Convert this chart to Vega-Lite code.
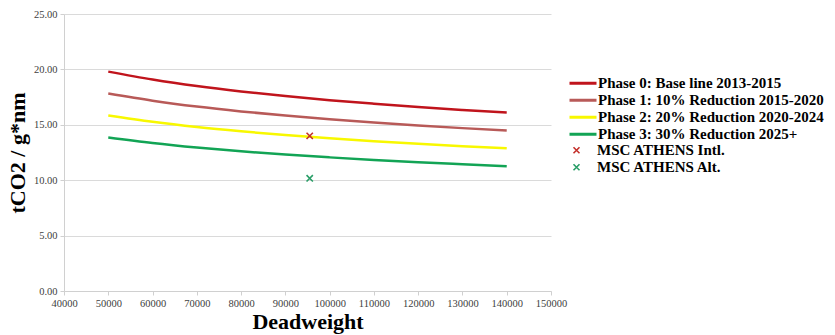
{
  "$schema": "https://vega.github.io/schema/vega-lite/v6.json",
  "autosize": {"type": "none"},
  "width": 487,
  "height": 277,
  "padding": {"left": 64, "top": 14, "right": 284, "bottom": 44},
  "background": "white",
  "config": {
    "view": {"stroke": null},
    "font": "Liberation Serif",
    "axis": {
      "labelFont": "Liberation Serif",
      "labelFontSize": 10.5,
      "labelColor": "#404040",
      "titleFont": "Liberation Serif",
      "titleFontSize": 22,
      "titleFontWeight": "bold",
      "titleColor": "#000000",
      "domainColor": "#d0d0d0",
      "tickColor": "#d0d0d0",
      "gridColor": "#dadada",
      "tickSize": 4
    },
    "legend": {
      "labelFont": "Liberation Serif",
      "labelFontSize": 15,
      "labelFontWeight": "bold",
      "labelColor": "#000000",
      "labelLimit": 400,
      "padding": 0,
      "rowPadding": 0
    }
  },
  "datasets": {
    "curves": [
      {"series": "Phase 0: Base line 2013-2015", "dwt": 50000, "val": 19.80},
      {"series": "Phase 0: Base line 2013-2015", "dwt": 60000, "val": 19.09},
      {"series": "Phase 0: Base line 2013-2015", "dwt": 70000, "val": 18.50},
      {"series": "Phase 0: Base line 2013-2015", "dwt": 80000, "val": 18.01},
      {"series": "Phase 0: Base line 2013-2015", "dwt": 90000, "val": 17.59},
      {"series": "Phase 0: Base line 2013-2015", "dwt": 100000, "val": 17.22},
      {"series": "Phase 0: Base line 2013-2015", "dwt": 110000, "val": 16.90},
      {"series": "Phase 0: Base line 2013-2015", "dwt": 120000, "val": 16.60},
      {"series": "Phase 0: Base line 2013-2015", "dwt": 130000, "val": 16.34},
      {"series": "Phase 0: Base line 2013-2015", "dwt": 140000, "val": 16.10},
      {"series": "Phase 1: 10% Reduction 2015-2020", "dwt": 50000, "val": 17.82},
      {"series": "Phase 1: 10% Reduction 2015-2020", "dwt": 60000, "val": 17.18},
      {"series": "Phase 1: 10% Reduction 2015-2020", "dwt": 70000, "val": 16.65},
      {"series": "Phase 1: 10% Reduction 2015-2020", "dwt": 80000, "val": 16.21},
      {"series": "Phase 1: 10% Reduction 2015-2020", "dwt": 90000, "val": 15.83},
      {"series": "Phase 1: 10% Reduction 2015-2020", "dwt": 100000, "val": 15.50},
      {"series": "Phase 1: 10% Reduction 2015-2020", "dwt": 110000, "val": 15.21},
      {"series": "Phase 1: 10% Reduction 2015-2020", "dwt": 120000, "val": 14.94},
      {"series": "Phase 1: 10% Reduction 2015-2020", "dwt": 130000, "val": 14.70},
      {"series": "Phase 1: 10% Reduction 2015-2020", "dwt": 140000, "val": 14.49},
      {"series": "Phase 2: 20% Reduction 2020-2024", "dwt": 50000, "val": 15.84},
      {"series": "Phase 2: 20% Reduction 2020-2024", "dwt": 60000, "val": 15.27},
      {"series": "Phase 2: 20% Reduction 2020-2024", "dwt": 70000, "val": 14.80},
      {"series": "Phase 2: 20% Reduction 2020-2024", "dwt": 80000, "val": 14.41},
      {"series": "Phase 2: 20% Reduction 2020-2024", "dwt": 90000, "val": 14.07},
      {"series": "Phase 2: 20% Reduction 2020-2024", "dwt": 100000, "val": 13.78},
      {"series": "Phase 2: 20% Reduction 2020-2024", "dwt": 110000, "val": 13.52},
      {"series": "Phase 2: 20% Reduction 2020-2024", "dwt": 120000, "val": 13.28},
      {"series": "Phase 2: 20% Reduction 2020-2024", "dwt": 130000, "val": 13.07},
      {"series": "Phase 2: 20% Reduction 2020-2024", "dwt": 140000, "val": 12.88},
      {"series": "Phase 3: 30% Reduction 2025+", "dwt": 50000, "val": 13.86},
      {"series": "Phase 3: 30% Reduction 2025+", "dwt": 60000, "val": 13.36},
      {"series": "Phase 3: 30% Reduction 2025+", "dwt": 70000, "val": 12.95},
      {"series": "Phase 3: 30% Reduction 2025+", "dwt": 80000, "val": 12.61},
      {"series": "Phase 3: 30% Reduction 2025+", "dwt": 90000, "val": 12.31},
      {"series": "Phase 3: 30% Reduction 2025+", "dwt": 100000, "val": 12.06},
      {"series": "Phase 3: 30% Reduction 2025+", "dwt": 110000, "val": 11.83},
      {"series": "Phase 3: 30% Reduction 2025+", "dwt": 120000, "val": 11.62},
      {"series": "Phase 3: 30% Reduction 2025+", "dwt": 130000, "val": 11.44},
      {"series": "Phase 3: 30% Reduction 2025+", "dwt": 140000, "val": 11.27}
    ],
    "ships": [
      {"name": "MSC ATHENS Intl.", "dwt": 95500, "val": 14.0},
      {"name": "MSC ATHENS Alt.", "dwt": 95500, "val": 10.17}
    ]
  },
  "layer": [
    {
      "data": {"name": "curves"},
      "mark": {"type": "line", "strokeWidth": 2.5, "interpolate": "monotone"},
      "encoding": {
        "x": {
          "field": "dwt", "type": "quantitative",
          "scale": {"domain": [40000, 150000], "nice": false, "zero": false},
          "axis": {
            "title": "Deadweight",
            "values": [40000, 50000, 60000, 70000, 80000, 90000, 100000, 110000, 120000, 130000, 140000, 150000],
            "format": "d",
            "grid": false,
            "labelOverlap": false,
            "labelFlush": false,
            "labelPadding": 3,
            "titlePadding": 3
          }
        },
        "y": {
          "field": "val", "type": "quantitative",
          "scale": {"domain": [0, 25], "nice": false},
          "axis": {
            "title": "tCO2 / g*nm",
            "values": [0, 5, 10, 15, 20, 25],
            "format": ".2f",
            "grid": true,
            "labelPadding": 3,
            "titlePadding": 4
          }
        },
        "color": {
          "field": "series", "type": "nominal",
          "scale": {
            "domain": ["Phase 0: Base line 2013-2015", "Phase 1: 10% Reduction 2015-2020", "Phase 2: 20% Reduction 2020-2024", "Phase 3: 30% Reduction 2025+"],
            "range": ["#c0141c", "#b85a58", "#f8f800", "#12a455"]
          },
          "legend": {
            "title": null,
            "orient": "none",
            "legendX": 504,
            "legendY": 61,
            "symbolType": "stroke",
            "symbolSize": 729,
            "symbolStrokeWidth": 3,
            "clipHeight": 16.5,
            "labelOffset": 0
          }
        }
      }
    },
    {
      "data": {"name": "ships"},
      "mark": {"type": "point", "shape": "M-1,-1L1,1M1,-1L-1,1", "filled": false, "size": 40, "strokeWidth": 1.6, "opacity": 1},
      "encoding": {
        "x": {"field": "dwt", "type": "quantitative"},
        "y": {"field": "val", "type": "quantitative"},
        "color": {
          "field": "name", "type": "nominal",
          "scale": {
            "domain": ["MSC ATHENS Intl.", "MSC ATHENS Alt."],
            "range": ["#c4302b", "#2a9e68"]
          },
          "legend": {
            "title": null,
            "orient": "none",
            "legendX": 505,
            "legendY": 128,
            "symbolType": "M-1,-1L1,1M1,-1L-1,1",
            "symbolSize": 36,
            "symbolStrokeWidth": 1.6,
            "symbolFillColor": "transparent",
            "clipHeight": 16.5,
            "labelOffset": 13
          }
        }
      }
    }
  ],
  "resolve": {"scale": {"color": "independent"}}
}
